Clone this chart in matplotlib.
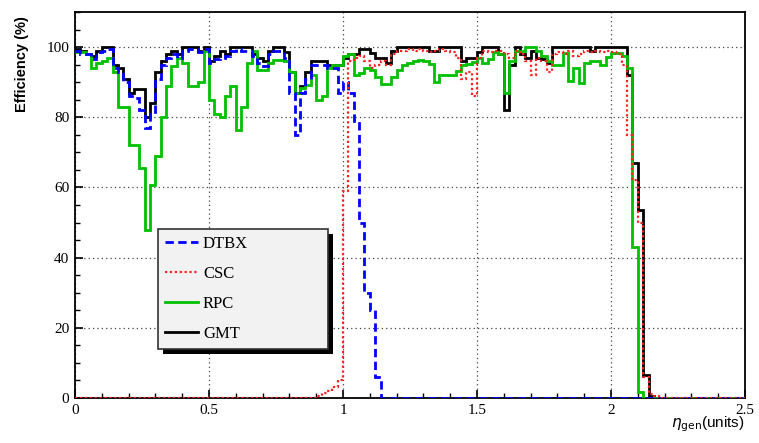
import numpy as np
import matplotlib
matplotlib.use("Agg")
import matplotlib.pyplot as plt
from matplotlib.lines import Line2D
from matplotlib.patches import Rectangle
from matplotlib.ticker import MultipleLocator

# ---------------- data (efficiency in %, bins of 0.02 in eta) ----------------
bin_width = 0.02
n_bins = 125
edges = np.arange(n_bins + 1) * bin_width

gmt = [99.5, 99, 98, 97.5, 98.8, 100, 100, 95, 94, 91,
       87, 88, 88, 80, 84, 93, 96, 98, 99, 98,
       100, 100, 100, 99, 100, 96, 97.5, 99, 98, 100,
       100, 100, 100, 98, 97, 96, 99, 100, 100, 98.5,
       93, 87, 89, 93, 96, 96, 96, 95, 95, 95,
       97, 98, 98, 99.5, 99.5, 98.3, 97, 97, 95.5, 99,
       100, 100, 100, 100, 100, 100, 99, 98.8, 100, 100,
       100, 100, 96, 97, 97, 98.5, 100, 100, 100, 98,
       82, 95, 100, 98, 97, 99, 97, 96.5, 95.4, 100,
       100, 100, 100, 100, 100, 100, 98.8, 100, 100, 100,
       100, 100, 100, 92, 67, 53.5, 6.5, 0.5, 0, 0,
       0, 0, 0, 0, 0, 0, 0, 0, 0, 0,
       0, 0, 0, 0, 0]

rpc = [98.5, 98.5, 98, 94, 95.5, 96, 97, 93, 83, 83,
       72, 72, 65.5, 48, 60.8, 69, 80, 89, 94.5, 97,
       95.5, 89, 89, 90, 99, 85, 81, 80, 86, 89,
       76.4, 83, 95.4, 98.8, 93.5, 93.5, 95.4, 96.4, 96.4, 96,
       93, 87, 88.3, 89.3, 92, 85, 86, 94, 95, 95,
       97.5, 98, 92, 92.5, 94, 93.5, 91.5, 89.5, 89.5, 91.5,
       93.5, 95, 95.5, 96, 96.4, 96, 95.2, 90, 92, 92,
       92, 93.2, 95, 95.2, 95.8, 96.8, 95.5, 96.5, 98.5, 98,
       87, 96, 99, 99, 100, 100, 98.8, 97.5, 96, 95,
       95, 98.3, 90.2, 94, 89.7, 95.4, 96, 96, 95, 97.3,
       98.3, 98.3, 97.5, 94, 43, 1.7, 0, 0, 0, 0,
       0, 0, 0, 0, 0, 0, 0, 0, 0, 0,
       0, 0, 0, 0, 0]

dtbx = [99, 98, 98, 96.5, 98.5, 99, 99.5, 94, 93, 90,
        86, 85.5, 82, 77, 81, 91, 95, 97, 98, 97,
        99, 99.5, 99.5, 98.5, 99.5, 95.5, 96.5, 97, 97.5, 99,
        99.5, 99, 99, 97.5, 95.5, 94.5, 98, 99, 99, 97,
        87, 75, 87, 91, 95, 95, 95, 94, 94, 87,
        90, 87, 79, 50, 30, 25, 6, 0, 0, 0,
        0, 0, 0, 0, 0, 0, 0, 0, 0, 0,
        0, 0, 0, 0, 0, 0, 0, 0, 0, 0,
        0, 0, 0, 0, 0, 0, 0, 0, 0, 0,
        0, 0, 0, 0, 0, 0, 0, 0, 0, 0,
        0, 0, 0, 0, 0, 0, 0, 0, 0, 0,
        0, 0, 0, 0, 0, 0, 0, 0, 0, 0,
        0, 0, 0, 0, 0]

csc = [0, 0, 0, 0, 0, 0, 0, 0, 0, 0,
       0, 0, 0, 0, 0, 0, 0, 0, 0, 0,
       0, 0, 0, 0, 0, 0, 0, 0, 0, 0,
       0, 0, 0, 0, 0, 0, 0, 0, 0, 0,
       0, 0, 0, 0, 0, 0.5, 1.5, 2, 3, 5,
       59, 96, 97, 97.5, 96, 94, 95, 96, 95, 98,
       99, 99, 99.5, 99, 99.5, 99, 98.5, 99, 99.5, 99,
       98.5, 97, 91, 93, 86, 97, 99, 98.5, 99, 99,
       98, 97, 99, 98, 96, 92, 97, 96, 93, 98,
       98.5, 98, 99, 97.5, 98, 99, 98.5, 99, 98.5, 99,
       98.5, 98, 95, 75, 62, 50, 6, 1, 0.5, 0,
       0, 0, 0, 0, 0, 0, 0, 0, 0, 0,
       0, 0, 0, 0, 0]

series_labels = ["DTBX", "CSC", "RPC", "GMT"]
x_ticks = [0, 0.5, 1, 1.5, 2, 2.5]
x_ticklabels = ["0", "0.5", "1", "1.5", "2", "2.5"]
y_ticks = [0, 20, 40, 60, 80, 100]
y_ticklabels = ["0", "20", "40", "60", "80", "100"]

for s in (gmt, rpc, dtbx, csc):
    assert len(s) == n_bins

# ---------------- figure ----------------
W, H = 759, 443
fig = plt.figure(figsize=(W / 100, H / 100), dpi=100)
L, R, T, B = 75, 745, 12, 398
ax = fig.add_axes([L / W, 1 - B / H, (R - L) / W, (B - T) / H])

green = "#00c000"
blue = "#0000ff"
red = "#ff2020"

ax.stairs(gmt, edges, baseline=None, color="black", lw=2.0, zorder=3)
ax.stairs(rpc, edges, baseline=None, color=green, lw=2.0, zorder=4)
ax.stairs(dtbx, edges, baseline=None, color=blue, lw=2.0,
          linestyle=(0, (3, 1.6)), zorder=5)
ax.stairs(csc, edges, baseline=None, color=red, lw=1.6,
          linestyle=(0, (1, 1.2)), zorder=6)

ax.set_xlim(0, 2.5)
ax.set_ylim(0, 110)
ax.set_xticks(x_ticks)
ax.set_xticklabels(x_ticklabels)
ax.set_yticks(y_ticks)
ax.set_yticklabels(y_ticklabels)
ax.xaxis.set_minor_locator(MultipleLocator(0.1))
ax.yaxis.set_minor_locator(MultipleLocator(5))
ax.tick_params(which="major", direction="in", length=6, width=1.2,
               top=False, right=False, pad=4)
ax.tick_params(which="minor", direction="in", length=3.5, width=1.0,
               top=False, right=False)
for lab in ax.get_xticklabels() + ax.get_yticklabels():
    lab.set_fontfamily("Liberation Serif")
    lab.set_fontsize(11)

ax.grid(which="major", linestyle=(0, (1, 2.5)), color="#444444", lw=0.9, zorder=1)
for sp in ax.spines.values():
    sp.set_linewidth(1.3)
    sp.set_color("black")

# axis titles
fig.text(22 / W, 1 - 64 / H, "Efficiency (%)", rotation=90, ha="center", va="center",
         fontsize=10.5, fontweight="bold", family="Liberation Sans")
fig.text(745 / W, 1 - 424 / H, r"$\eta_{\mathrm{gen}}$(units)", ha="right", va="center",
         fontsize=11, family="Liberation Sans")

# legend
handles = [
    Line2D([], [], color=blue, lw=2.0, linestyle=(0, (3, 1.6))),
    Line2D([], [], color=red, lw=1.6, linestyle=(0, (1, 1.2))),
    Line2D([], [], color=green, lw=2.0),
    Line2D([], [], color="black", lw=2.0),
]
lx0, lx1, ly0, ly1 = 158, 328, 229, 349
bx = ((lx0 - L) / (R - L), (B - ly1) / (B - T), (lx1 - lx0) / (R - L), (ly1 - ly0) / (B - T))
leg = ax.legend(handles, series_labels, loc="upper left", bbox_to_anchor=bx, mode="expand",
                borderaxespad=0, frameon=True, fancybox=False, framealpha=1,
                facecolor="#f2f2f2", edgecolor="#333333", handlelength=2.0,
                handletextpad=0.3, labelspacing=0.85, borderpad=0.4,
                prop={"family": "Liberation Serif", "size": 12})
leg.get_frame().set_linewidth(1.2)
leg.set_zorder(10)

fig.canvas.draw()
bb = leg.get_window_extent()
inv = fig.transFigure.inverted()
(fx0, fy0), (fx1, fy1) = inv.transform([[bb.x0, bb.y0], [bb.x1, bb.y1]])
dx, dy = 5 / W, 5 / H
shadow = Rectangle((fx0 + dx, fy0 - dy), fx1 - fx0, fy1 - fy0, transform=fig.transFigure,
                   facecolor="black", edgecolor="none", zorder=9)
ax.add_artist(shadow)
shadow.set_clip_on(False)

fig.savefig("out.png", dpi=100)
